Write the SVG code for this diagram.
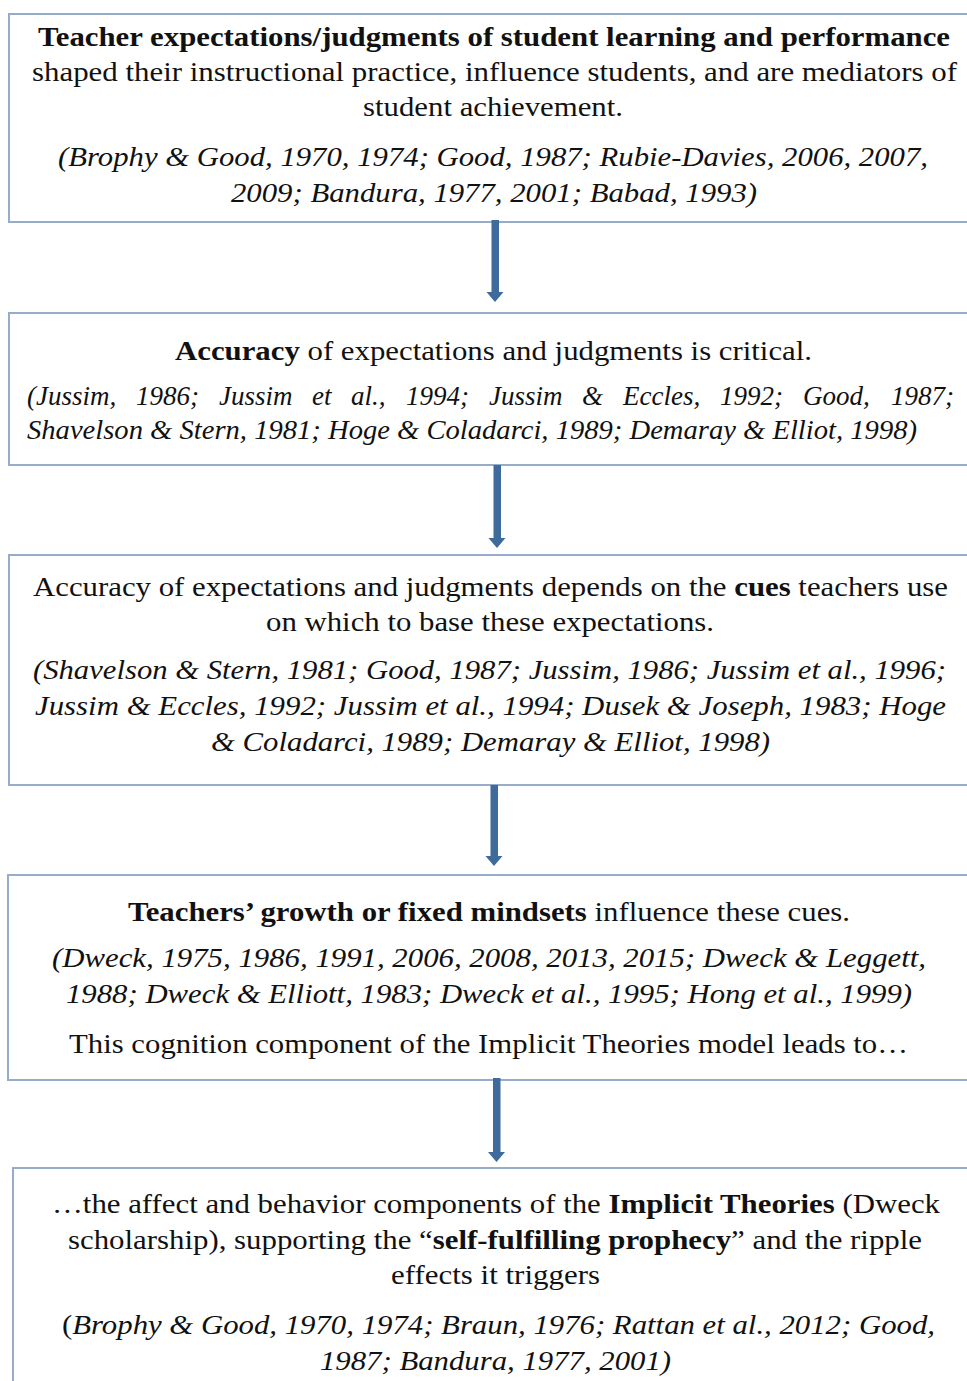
<svg xmlns="http://www.w3.org/2000/svg" width="967" height="1381" viewBox="0 0 967 1381">
<style>
.box{fill:#ffffff;stroke:#95accb;stroke-width:2}
text{font-family:"Liberation Serif","Times New Roman",serif;font-size:27px;fill:#111111}
.b{font-weight:bold}
.i{font-style:italic}
.arrow{fill:#3f6a9c}
</style>
<rect x="0" y="0" width="967" height="1381" fill="#ffffff"/>
<g id="node1">
<rect class="box" x="9" y="14" width="970" height="208"/>
<text class="b" x="38" y="46" textLength="912" lengthAdjust="spacingAndGlyphs">Teacher expectations/judgments of student learning and performance</text>
<text x="32" y="81" textLength="925" lengthAdjust="spacingAndGlyphs">shaped their instructional practice, influence students, and are mediators of</text>
<text x="363" y="116" textLength="260" lengthAdjust="spacingAndGlyphs">student achievement.</text>
<text class="i" x="58" y="166" textLength="870" lengthAdjust="spacingAndGlyphs">(Brophy &amp; Good, 1970, 1974; Good, 1987; Rubie-Davies, 2006, 2007,</text>
<text class="i" x="231" y="202" textLength="526" lengthAdjust="spacingAndGlyphs">2009; Bandura, 1977, 2001; Babad, 1993)</text>
</g>
<g id="node2">
<rect class="box" x="9" y="313" width="970" height="152"/>
<text x="175" y="360" textLength="637" lengthAdjust="spacingAndGlyphs"><tspan class="b">Accuracy</tspan> of expectations and judgments is critical.</text>
<text class="i" y="405"><tspan x="27">(Jussim,</tspan><tspan x="136">1986;</tspan><tspan x="219">Jussim</tspan><tspan x="312">et</tspan><tspan x="351">al.,</tspan><tspan x="406">1994;</tspan><tspan x="489">Jussim</tspan><tspan x="582">&amp;</tspan><tspan x="623">Eccles,</tspan><tspan x="720">1992;</tspan><tspan x="803">Good,</tspan><tspan x="891">1987;</tspan></text>
<text class="i" x="27" y="439" textLength="890" lengthAdjust="spacingAndGlyphs">Shavelson &amp; Stern, 1981; Hoge &amp; Coladarci, 1989; Demaray &amp; Elliot, 1998)</text>
</g>
<g id="node3">
<rect class="box" x="9" y="555" width="970" height="230"/>
<text x="33" y="596" textLength="915" lengthAdjust="spacingAndGlyphs">Accuracy of expectations and judgments depends on the <tspan class="b">cues</tspan> teachers use</text>
<text x="266" y="631" textLength="448" lengthAdjust="spacingAndGlyphs">on which to base these expectations.</text>
<text class="i" x="33" y="679" textLength="913" lengthAdjust="spacingAndGlyphs">(Shavelson &amp; Stern, 1981; Good, 1987; Jussim, 1986; Jussim et al., 1996;</text>
<text class="i" x="35" y="715" textLength="911" lengthAdjust="spacingAndGlyphs">Jussim &amp; Eccles, 1992; Jussim et al., 1994; Dusek &amp; Joseph, 1983; Hoge</text>
<text class="i" x="211" y="751" textLength="559" lengthAdjust="spacingAndGlyphs">&amp; Coladarci, 1989; Demaray &amp; Elliot, 1998)</text>
</g>
<g id="node4">
<rect class="box" x="8" y="875" width="971" height="205"/>
<text x="128" y="921" textLength="722" lengthAdjust="spacingAndGlyphs"><tspan class="b">Teachers’ growth or fixed mindsets</tspan> influence these cues.</text>
<text class="i" x="52" y="967" textLength="874" lengthAdjust="spacingAndGlyphs">(Dweck, 1975, 1986, 1991, 2006, 2008, 2013, 2015; Dweck &amp; Leggett,</text>
<text class="i" x="66" y="1003" textLength="846" lengthAdjust="spacingAndGlyphs">1988; Dweck &amp; Elliott, 1983; Dweck et al., 1995; Hong et al., 1999)</text>
<text x="69" y="1053" textLength="839" lengthAdjust="spacingAndGlyphs">This cognition component of the Implicit Theories model leads to…</text>
</g>
<g id="node5">
<rect class="box" x="13" y="1168" width="966" height="230"/>
<text x="52" y="1213" textLength="888" lengthAdjust="spacingAndGlyphs">…the affect and behavior components of the <tspan class="b">Implicit Theories</tspan> (Dweck</text>
<text x="68" y="1249" textLength="854" lengthAdjust="spacingAndGlyphs">scholarship), supporting the “<tspan class="b">self-fulfilling prophecy</tspan>” and the ripple</text>
<text x="391" y="1284" textLength="209" lengthAdjust="spacingAndGlyphs">effects it triggers</text>
<text x="62" y="1334" textLength="873" lengthAdjust="spacingAndGlyphs">(<tspan class="i">Brophy &amp; Good, 1970, 1974; Braun, 1976; Rattan et al., 2012; Good,</tspan></text>
<text class="i" x="320" y="1370" textLength="351" lengthAdjust="spacingAndGlyphs">1987; Bandura, 1977, 2001)</text>
</g>
<g id="connectors">
<polygon class="arrow" points="491.5,220 499,220 499,292 503.5,292 495,302 486.5,292 491.5,292"/>
<polygon class="arrow" points="493.5,465 501,465 501,538 505.5,538 497,548 488.5,538 493.5,538"/>
<polygon class="arrow" points="490.5,785 498,785 498,856 502.5,856 494,866 485.5,856 490.5,856"/>
<polygon class="arrow" points="493,1078 500.5,1078 500.5,1152 505,1152 496.5,1162 488,1152 493,1152"/>
</g>
</svg>
